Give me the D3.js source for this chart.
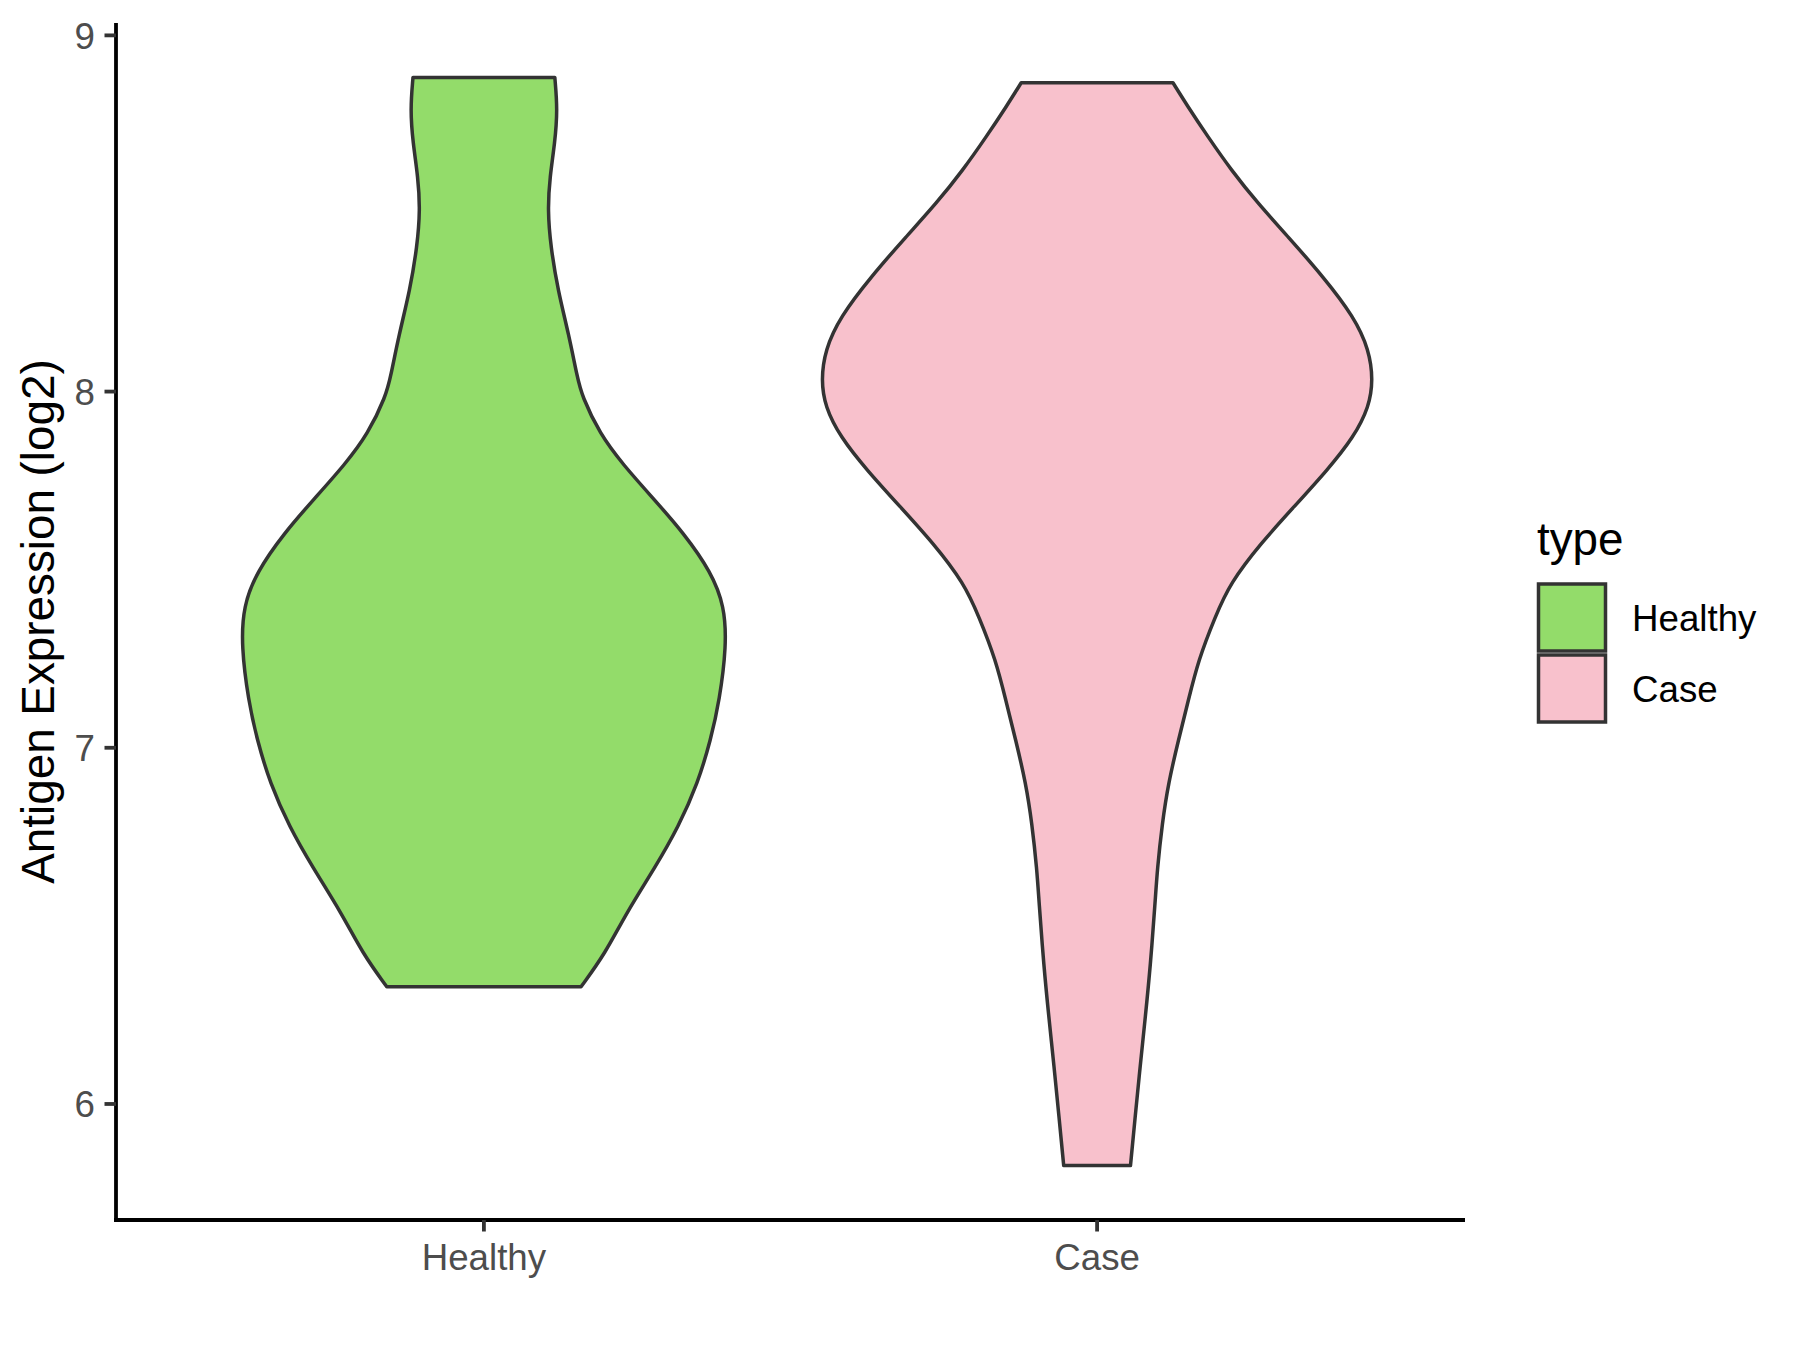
<!DOCTYPE html>
<html>
<head>
<meta charset="utf-8">
<script src="https://cdn.jsdelivr.net/npm/d3@7"></script>
<style>
  html, body { margin: 0; padding: 0; background: #ffffff; }
  svg { display: block; }
</style>
</head>
<body>
<svg id="chart" width="1800" height="1350"></svg>
<script>
// ---- data ----
const categories = ["Healthy", "Case"];
const fills = ["#93DC6A", "#F8C1CC"];
const yTicks = [6, 7, 8, 9];

// violin outline: expression values (log2) and relative density half-widths (1 = widest violin)
const healthyValues = [8.882, 8.791, 8.697, 8.603, 8.510, 8.407, 8.285, 8.159, 8.042, 7.988, 7.881, 7.795, 7.698, 7.602, 7.494, 7.398, 7.285, 7.134, 7.022, 6.900, 6.778, 6.666, 6.535, 6.423, 6.329];
const healthyDensity = [0.257, 0.267, 0.257, 0.239, 0.231, 0.242, 0.268, 0.308, 0.338, 0.355, 0.420, 0.504, 0.616, 0.725, 0.823, 0.872, 0.879, 0.854, 0.822, 0.775, 0.705, 0.622, 0.515, 0.440, 0.352];

const caseValues = [8.867, 8.800, 8.715, 8.622, 8.528, 8.435, 8.322, 8.210, 8.117, 8.032, 7.958, 7.873, 7.780, 7.677, 7.574, 7.462, 7.368, 7.246, 7.134, 7.022, 6.900, 6.788, 6.657, 6.573, 6.386, 6.245, 6.105, 5.964, 5.827];
const caseDensity = [0.275, 0.329, 0.402, 0.486, 0.583, 0.692, 0.820, 0.931, 0.986, 1.000, 0.986, 0.931, 0.835, 0.714, 0.593, 0.482, 0.428, 0.367, 0.331, 0.295, 0.258, 0.236, 0.218, 0.211, 0.193, 0.175, 0.156, 0.138, 0.121];

const violins = [
  { name: "Healthy", values: healthyValues, density: healthyDensity },
  { name: "Case", values: caseValues, density: caseDensity }
];

// ---- layout ----
const panel = { left: 116, right: 1465, top: 23, bottom: 1220 };
const font = "'Liberation Sans', Arial, sans-serif";

const svg = d3.select("#chart");

// y scale: data range with 5% expansion
const allVals = healthyValues.concat(caseValues);
const yMin = d3.min(allVals), yMax = d3.max(allVals);
const pad = (yMax - yMin) * 0.05;
const y = d3.scaleLinear().domain([yMin - pad, yMax + pad]).range([panel.bottom, panel.top]);

// x: discrete positions with 0.6 expansion on each side
const x = d3.scaleLinear().domain([0.4, categories.length + 0.6]).range([panel.left, panel.right]);
const xPos = c => x(categories.indexOf(c) + 1);
const wScale = d3.scaleLinear().domain([0, 1]).range([0, x(1.45) - x(1)]);

// violins
const curve = d3.line().curve(d3.curveBasis);
violins.forEach((v, i) => {
  const cx = xPos(v.name);
  const pts = v.values.map((val, k) => ({ v: val, d: v.density[k] }));
  const right = pts.map(p => [cx + wScale(p.d), y(p.v)]);
  const left = pts.slice().reverse().map(p => [cx - wScale(p.d), y(p.v)]);
  const d = curve(right) + "L" + curve(left).slice(1) + "Z";
  svg.append("path")
    .attr("d", d)
    .attr("fill", fills[i])
    .attr("stroke", "#333333")
    .attr("stroke-width", 3.5)
    .attr("stroke-linejoin", "round");
});

// y axis
const yAxisG = svg.append("g").attr("transform", `translate(${panel.left},0)`);
yAxisG.append("line")
  .attr("x1", 0).attr("x2", 0).attr("y1", panel.top).attr("y2", panel.bottom + 1.9)
  .attr("stroke", "#000").attr("stroke-width", 3.8);
yTicks.forEach(t => {
  yAxisG.append("line")
    .attr("x1", -11.5).attr("x2", 0).attr("y1", y(t)).attr("y2", y(t))
    .attr("stroke", "#333333").attr("stroke-width", 3.8);
  yAxisG.append("text")
    .attr("x", -21).attr("y", y(t))
    .attr("dy", "0.36em")
    .attr("text-anchor", "end")
    .attr("font-family", font).attr("font-size", 36.7)
    .attr("fill", "#4D4D4D")
    .text(t);
});

// x axis
const xAxisG = svg.append("g").attr("transform", `translate(0,${panel.bottom})`);
xAxisG.append("line")
  .attr("x1", panel.left - 1.9).attr("x2", panel.right).attr("y1", 0).attr("y2", 0)
  .attr("stroke", "#000").attr("stroke-width", 3.8);
categories.forEach(c => {
  xAxisG.append("line")
    .attr("x1", xPos(c)).attr("x2", xPos(c)).attr("y1", 0).attr("y2", 11.5)
    .attr("stroke", "#333333").attr("stroke-width", 3.8);
  xAxisG.append("text")
    .attr("x", xPos(c)).attr("y", 21)
    .attr("dy", "0.8em")
    .attr("text-anchor", "middle")
    .attr("font-family", font).attr("font-size", 36.7)
    .attr("fill", "#4D4D4D")
    .text(c);
});

// y title
svg.append("text")
  .attr("transform", `translate(${54},${(panel.top + panel.bottom) / 2}) rotate(-90)`)
  .attr("text-anchor", "middle")
  .attr("font-family", font).attr("font-size", 45.8)
  .attr("fill", "#000")
  .text("Antigen Expression (log2)");

// legend
const lg = svg.append("g").attr("transform", "translate(1537,0)");
lg.append("text")
  .attr("x", 0).attr("y", 555)
  .attr("font-family", font).attr("font-size", 45.8)
  .attr("fill", "#000")
  .text("type");
categories.forEach((c, i) => {
  const top = 584 + i * 71;
  lg.append("rect")
    .attr("x", 1.5).attr("y", top)
    .attr("width", 67).attr("height", 67)
    .attr("fill", fills[i])
    .attr("stroke", "#333333").attr("stroke-width", 3.5);
  lg.append("text")
    .attr("x", 95).attr("y", top + 34)
    .attr("dy", "0.36em")
    .attr("font-family", font).attr("font-size", 36.7)
    .attr("fill", "#000")
    .text(c);
});
</script>
</body>
</html>
